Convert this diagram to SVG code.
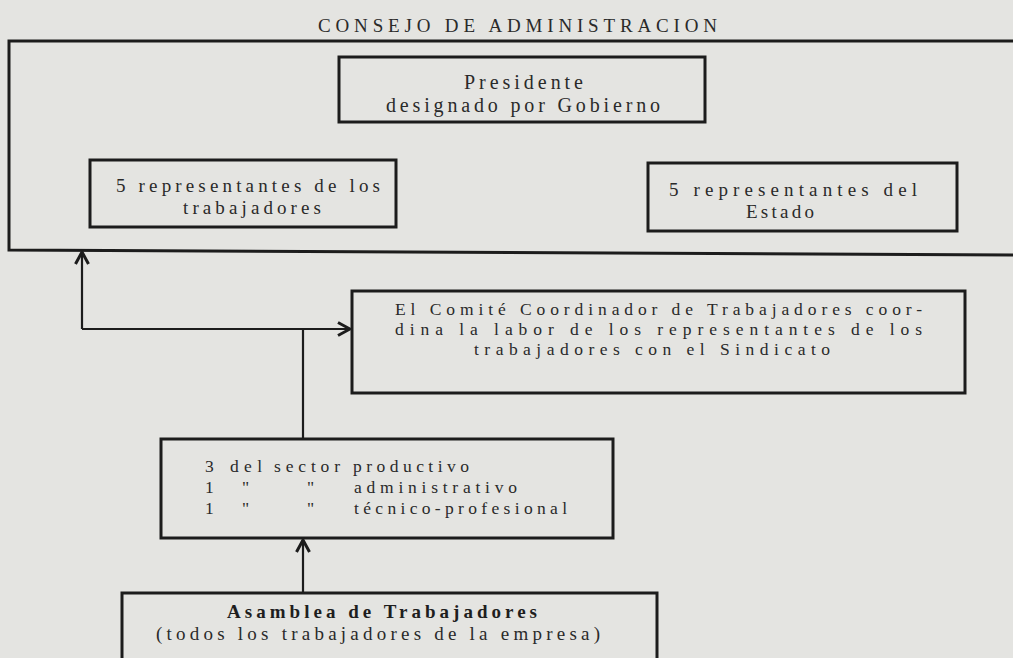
<svg xmlns="http://www.w3.org/2000/svg" width="1013" height="658" viewBox="0 0 1013 658">
<defs>
<style>
.bg{fill:#e4e4e1}
.box{fill:none;stroke:#1c1c1c;stroke-width:3}
.line{fill:none;stroke:#1c1c1c;stroke-width:2.2}
.t{font-family:"Liberation Serif","Times New Roman",serif;font-size:19px;fill:#2a2a2a}
.s{font-size:17.5px}
.p{font-size:20px}
.b{font-weight:bold;fill:#1e1e1e}
.title{font-size:19px}
</style>
<marker id="chev" viewBox="0 0 16 16" refX="14" refY="8" markerWidth="16" markerHeight="16" markerUnits="userSpaceOnUse" orient="auto">
<path d="M2,1.5 L14,8 L2,14.5" fill="none" stroke="#1c1c1c" stroke-width="3"/>
</marker>
</defs>
<rect class="bg" x="0" y="0" width="1013" height="658"/>
<text class="t title" x="318" y="32" textLength="399" lengthAdjust="spacing">CONSEJO DE ADMINISTRACION</text>
<g id="consejo">
<path class="box" d="M1013,41 L9,41 L9,250 L1013,255"/>
</g>
<g id="presidente">
<rect class="box" x="339" y="57" width="366" height="65"/>
<text class="t p" x="464" y="89" textLength="119" lengthAdjust="spacing">Presidente</text>
<text class="t p" x="386" y="112" textLength="274" lengthAdjust="spacing">designado por Gobierno</text>
</g>
<g id="rep-trabajadores">
<rect class="box" x="90" y="160" width="306" height="67"/>
<text class="t" x="116" y="192" textLength="264" lengthAdjust="spacing">5 representantes de los</text>
<text class="t" x="183" y="214" textLength="138" lengthAdjust="spacing">trabajadores</text>
</g>
<g id="rep-estado">
<rect class="box" x="648" y="163" width="309" height="68"/>
<text class="t" x="669" y="196" textLength="248" lengthAdjust="spacing">5 representantes del</text>
<text class="t" x="746" y="218" textLength="68" lengthAdjust="spacing">Estado</text>
</g>
<g id="comite">
<rect class="box" x="352" y="291" width="613" height="102"/>
<text class="t s" x="395" y="315" textLength="527" lengthAdjust="spacing">El Comité Coordinador de Trabajadores coor-</text>
<text class="t s" x="395" y="335" textLength="527" lengthAdjust="spacing">dina la labor de los representantes de los</text>
<text class="t s" x="474" y="355" textLength="356" lengthAdjust="spacing">trabajadores con el Sindicato</text>
</g>
<g id="sectores">
<rect class="box" x="161" y="439" width="452" height="99"/>
<text class="t s" x="205" y="472">3</text>
<text class="t s" x="230" y="472" textLength="32" lengthAdjust="spacing">del</text>
<text class="t s" x="274" y="472" textLength="66" lengthAdjust="spacing">sector</text>
<text class="t s" x="353" y="472" textLength="116" lengthAdjust="spacing">productivo</text>
<text class="t s" x="205" y="493">1</text>
<text class="t s" x="242" y="493">"</text>
<text class="t s" x="307" y="493">"</text>
<text class="t s" x="354" y="493" textLength="163" lengthAdjust="spacing">administrativo</text>
<text class="t s" x="205" y="514">1</text>
<text class="t s" x="242" y="514">"</text>
<text class="t s" x="307" y="514">"</text>
<text class="t s" x="354" y="514" textLength="213" lengthAdjust="spacing">técnico-profesional</text>
</g>
<g id="asamblea">
<path class="box" d="M122,660 L122,593 L657,593 L657,660"/>
<text class="t b" x="227" y="618" textLength="310" lengthAdjust="spacing">Asamblea de Trabajadores</text>
<text class="t" x="156" y="640" textLength="444" lengthAdjust="spacing">(todos los trabajadores de la empresa)</text>
</g>
<g id="connectors">
<path class="line" d="M82,329 L82,252" marker-end="url(#chev)"/>
<path class="line" d="M82,329 L350,329" marker-end="url(#chev)"/>
<path class="line" d="M303,329 L303,439"/>
<path class="line" d="M303,593 L303,540" marker-end="url(#chev)"/>
</g>
</svg>
